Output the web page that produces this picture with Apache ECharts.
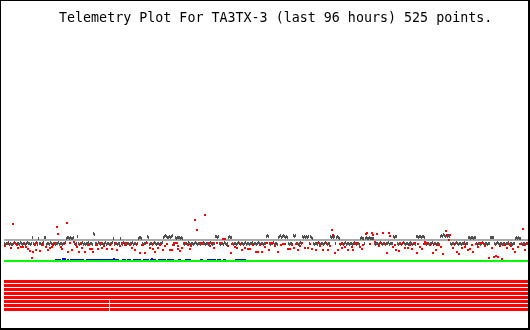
<!DOCTYPE html>
<html>
<head>
<meta charset="utf-8">
<script src="https://cdn.jsdelivr.net/npm/echarts@6/dist/echarts.min.js"></script>
<style>
html,body{margin:0;padding:0;background:#fff;}
#wrap{position:relative;width:530px;height:330px;}
#chart{position:absolute;left:0;top:0;width:530px;height:330px;}
#frame{position:absolute;left:0;top:0;width:530px;height:330px;box-sizing:border-box;border-style:solid;border-color:#000;border-width:1px 2px 2px 1px;pointer-events:none;}
</style>
</head>
<body>
<div id="wrap"><div id="chart"></div><div id="frame"></div></div>
<script>
// ---- data (sample index 0..524, signal value relative to reference level) ----
const titleText = 'Telemetry Plot For TA3TX-3 (last 96 hours) 525 points.';
const refLevel = 0;
const greenLevel = -21;

const darkVals = [
-3,-4,-3,-3,-2,-4,-3,-4,-4,-3,-2,-3,-4,-3,-3,-4,-2,-3,-4,-3,-3,-4,-3,-2,-3,
-3,-4,-3,3,-3,-4,-3,-2,-4,2,-3,-3,-4,-3,-2,3,3,-4,-3,-3,-4,-2,-3,-4,-3,
-3,-4,-3,-3,-2,-4,-3,-3,-4,-3,-3,-2,2,3,3,2,3,2,2,3,-3,-4,-3,4,-3,
-4,-3,-3,-2,-4,-3,-4,-3,-3,-2,-4,-3,-3,-4,7,6,-3,-3,-4,-2,-3,-4,-3,-3,-4,
-3,-2,-4,-3,-3,-4,-3,-3,-2,2,-4,-3,-3,-4,-3,-3,2,-3,-4,-2,-3,-3,-4,-3,-3,
-4,-3,-3,-2,-4,-3,-3,-4,-3,2,3,3,2,-3,-4,-3,-3,-2,4,3,-4,-3,-3,-4,-3,
-2,-3,-4,-3,-3,-4,-3,-3,-2,3,4,5,4,3,3,4,3,4,5,-3,-4,3,2,3,3,
3,2,3,2,-3,-4,-3,-3,-4,-2,-3,-4,-3,-3,-4,-3,-2,-3,-4,-3,-3,-4,-3,-3,-2,
-3,-4,-3,-3,-4,-3,-2,-3,-4,-3,-3,4,4,3,4,-3,-4,-3,-3,-4,-2,-3,-4,-3,3,
4,3,3,-3,-4,-3,-3,-4,-3,-2,-3,-4,-3,-3,-4,-3,-2,-4,-3,-3,-4,-3,-3,-2,-4,
-3,-3,-4,-3,-2,-3,-4,-3,-3,-4,-3,-3,4,5,4,-3,-4,-3,-3,-2,-4,-3,-3,-4,3,
4,5,3,4,5,4,3,4,3,-3,-4,-3,-3,-4,5,4,5,-3,-3,-4,-3,-2,-3,4,3,
4,3,4,3,4,-3,4,3,2,-3,-4,-3,-3,-4,-2,-3,-4,-3,-3,-4,-3,-2,-3,-4,-3,
-3,4,3,4,3,4,-3,3,4,3,2,-4,-3,-3,-4,-3,-2,-4,-3,-3,-4,-3,-3,-4,-3,
-2,-3,-4,-3,-3,-4,2,3,2,2,-3,2,3,2,2,3,2,2,2,2,-3,-4,-3,-3,-4,
-3,-2,-3,-4,-3,-3,-4,-3,-3,-2,-4,-3,-3,-3,4,3,4,4,-3,-4,-3,-3,-4,-3,-2,
-3,-4,-3,-3,-4,-3,-2,-3,-4,-3,-3,-4,4,4,3,4,4,3,4,4,3,-3,-4,-3,-3,
-4,-3,-3,-2,-4,-3,-3,-4,-3,-3,-4,4,5,4,6,5,4,5,4,5,4,-3,-4,-3,-3,
-4,-3,-2,-3,-4,-3,-3,-4,-3,-3,-2,-4,-3,-3,3,3,2,3,3,2,3,3,-3,-4,-3,
-3,-4,-3,-2,-3,-4,-3,-3,-4,-3,-3,3,3,3,3,-3,-4,-3,-2,-3,-4,-3,-3,-4,-3,
-3,-4,-3,-3,-2,-4,-3,-3,-4,-3,-3,2,3,2,3,2,2,-3,-4,-3,-3,-4,-3,-3,-4
];

const redPts = [
[9,16],[1,-6],[7,-8],[11,-3],[13,-5],[14,-8],[17,-7],[19,-7],[22,-7],[26,-11],[28,-18],[29,-12],[32,-10],[33,-3],[36,-11],[39,-5],[42,-7],[44,-10],[46,-8],[48,-7],[49,-5],[51,-3],[53,13],[54,6],[57,-7],[63,17],[64,-12],[66,-3],[68,-10],[70,-2],[73,-7],[75,-12],[78,-8],[81,-12],[84,-5],[88,-9],[89,-12],[94,-9],[96,-3],[98,-8],[103,-9],[106,-5],[111,-3],[113,-10],[118,-3],[121,-5],[123,-3],[128,-8],[131,-10],[136,-13],[138,-5],[141,-13],[143,-3],[146,-8],[149,-9],[151,-12],[154,-8],[159,-10],[163,-4],[166,-10],[171,-3],[174,-9],
[168,-10],[173,-3],[174,-6],[178,-8],[176,-11],[181,-3],[184,-5],[187,-6],[191,20],[193,10],[196,-3],[201,25],[199,-4],[204,-3],[208,-3],[213,-3],[216,-3],[219,1],[221,1],[224,-6],[227,-13],[231,-7],[233,-8],[238,-10],[241,-8],[244,-9],[246,-9],[252,-12],[254,-12],[258,-12],[261,-7],[263,-3],[266,-3],[268,-3],[271,-6],[274,-12],[279,-4],[281,-4],[284,-9],[286,-9],[290,-8],[294,-10],[298,-3],[301,-8],[304,-8],[308,-9],[312,-10],[314,-3],[319,-10],[322,-3],[324,-10],[328,10],[329,5],[331,-13],[334,-10],[338,-8],[341,-7],[344,-10],
[348,-7],[349,-10],[353,-3],[356,-7],[359,-5],[362,6],[363,7],[368,7],[369,5],[371,-2],[373,6],[376,-3],[379,7],[383,-13],[385,7],[386,4],[389,-7],[392,-10],[395,-11],[399,-3],[401,-8],[404,-8],[408,-9],[411,-3],[413,-13],[416,-7],[418,-9],[421,-2],[423,-3],[426,-5],[429,-13],[432,-10],[434,-5],[439,-14],[442,9],[443,5],[446,5],[445,0],[449,-8],[453,-12],[455,-14],[458,-8],[461,-7],[464,-10],[466,-9],[469,-12],[474,-7],[477,-3],[479,-3],[485,-18],[488,-8],[490,-17],[492,-16],[494,-17],[498,-19],[503,-8],[505,-4],[509,-9],[511,-12],[514,-7],[519,11],[521,-10],[523,-3],
[4,-4],[20,-4],[24,-9],[31,-5],[38,-4],[58,-9],[60,-4],[72,-5],[77,-4],[86,-9],[92,-5],[100,-6],[108,-9],[116,-6],[126,-5],[133,-4],[148,-4],[156,-5],[161,-6],[169,-5],[186,-9],[206,-6],[210,-8],[228,-4],[236,-4],[249,-5],[256,-5],[265,-10],[277,-5],[288,-5],[292,-4],[296,-6],[306,-4],[316,-6],[326,-6],[336,-4],[339,-4],[351,-4],[358,-9],[366,-4],[375,-6],[381,-4],[391,-5],[397,-4],[406,-5],[414,-4],[420,-4],[431,-4],[437,-7],[451,-4],[460,-4],[468,-5],[472,-4],[481,-6],[496,-6],[500,-5],[507,-6],[516,-4],[520,-5]
];

// blue channel runs: [startIndex, endIndex, value]
const blueRuns = [
[51,56,-19.5],[58,61,-18.5],[58,61,-19.5],[63,64,-19.5],[66,79,-19.5],[82,93,-19.5],[94,114,-19.5],[109,110,-18.5],[118,121,-19.5],[123,126,-19.5],[129,136,-19.5],[139,144,-19.5],[146,151,-19.5],[147,148,-18.5],[154,161,-19.5],[163,169,-19.5],[174,176,-19.5],[181,186,-19.5],[196,198,-19.5],[203,211,-19.5],[213,216,-19.5],[219,221,-19.5],[231,238,-19.5],[239,241,-19.5]
];

// digital status channels (8 bits): runs of "on" samples
const bitNames = ['b0','b1','b2','b3','b4','b5','b6','b7'];
const bitLevels = [-41.5,-45.5,-49.5,-53.5,-57.5,-61.5,-65.5,-69.5];
const bitRuns = [
[[0,524]],[[0,524]],[[0,524]],[[0,524]],[[0,524]],
[[0,104],[106,524]],[[0,104],[106,524]],[[0,104],[106,524]]
];

// ---- chart ----
const chart = echarts.init(document.getElementById('chart'), null, {renderer:'canvas'});

function runItem(color, h) {
  return function(params, api) {
    const s = api.coord([api.value(0), api.value(2)]);
    const e = api.coord([api.value(1) + 1, api.value(2)]);
    const hh = api.size([0, h])[1];
    return {type:'rect', shape:{x:s[0], y:s[1]-hh/2, width:e[0]-s[0], height:hh}, style:{fill:color}};
  };
}

const bitData = [];
bitRuns.forEach((runs, k) => runs.forEach(r => bitData.push([r[0], r[1], bitLevels[k], bitNames[k]])));

chart.setOption({
  animation:false,
  backgroundColor:'#fff',
  title:{text:titleText, left:59, top:12, padding:0, textStyle:{fontFamily:'DejaVu Sans Mono', fontSize:13.33, fontWeight:'normal', color:'#000'}},
  grid:{left:4, top:0, width:525, height:330},
  xAxis:{type:'value', min:0, max:525, show:false},
  yAxis:{type:'value', min:-90, max:240, show:false},
  series:[
    {type:'line', data:[[0,refLevel],[525,refLevel]], symbol:'none', lineStyle:{color:'#a9a9a9', width:2}, z:1},
    {type:'line', data:[[0,greenLevel],[525,greenLevel]], symbol:'none', lineStyle:{color:'#00ff00', width:2}, z:1},
    {type:'scatter', data:darkVals.map((v,i)=>[i,v]), symbol:'rect', symbolSize:[1,3], symbolOffset:[0.5,0.5], itemStyle:{color:'#505050', opacity:1}, z:2},
    {type:'custom', data:blueRuns, renderItem:runItem('#0000ff', 1), z:2},
    {type:'scatter', data:redPts, symbol:'rect', symbolSize:[2,2], itemStyle:{color:'#ff0000', opacity:1}, z:3},
    {type:'custom', data:bitData, renderItem:runItem('#ff0000', 3), z:3}
  ]
});
</script>
</body>
</html>
